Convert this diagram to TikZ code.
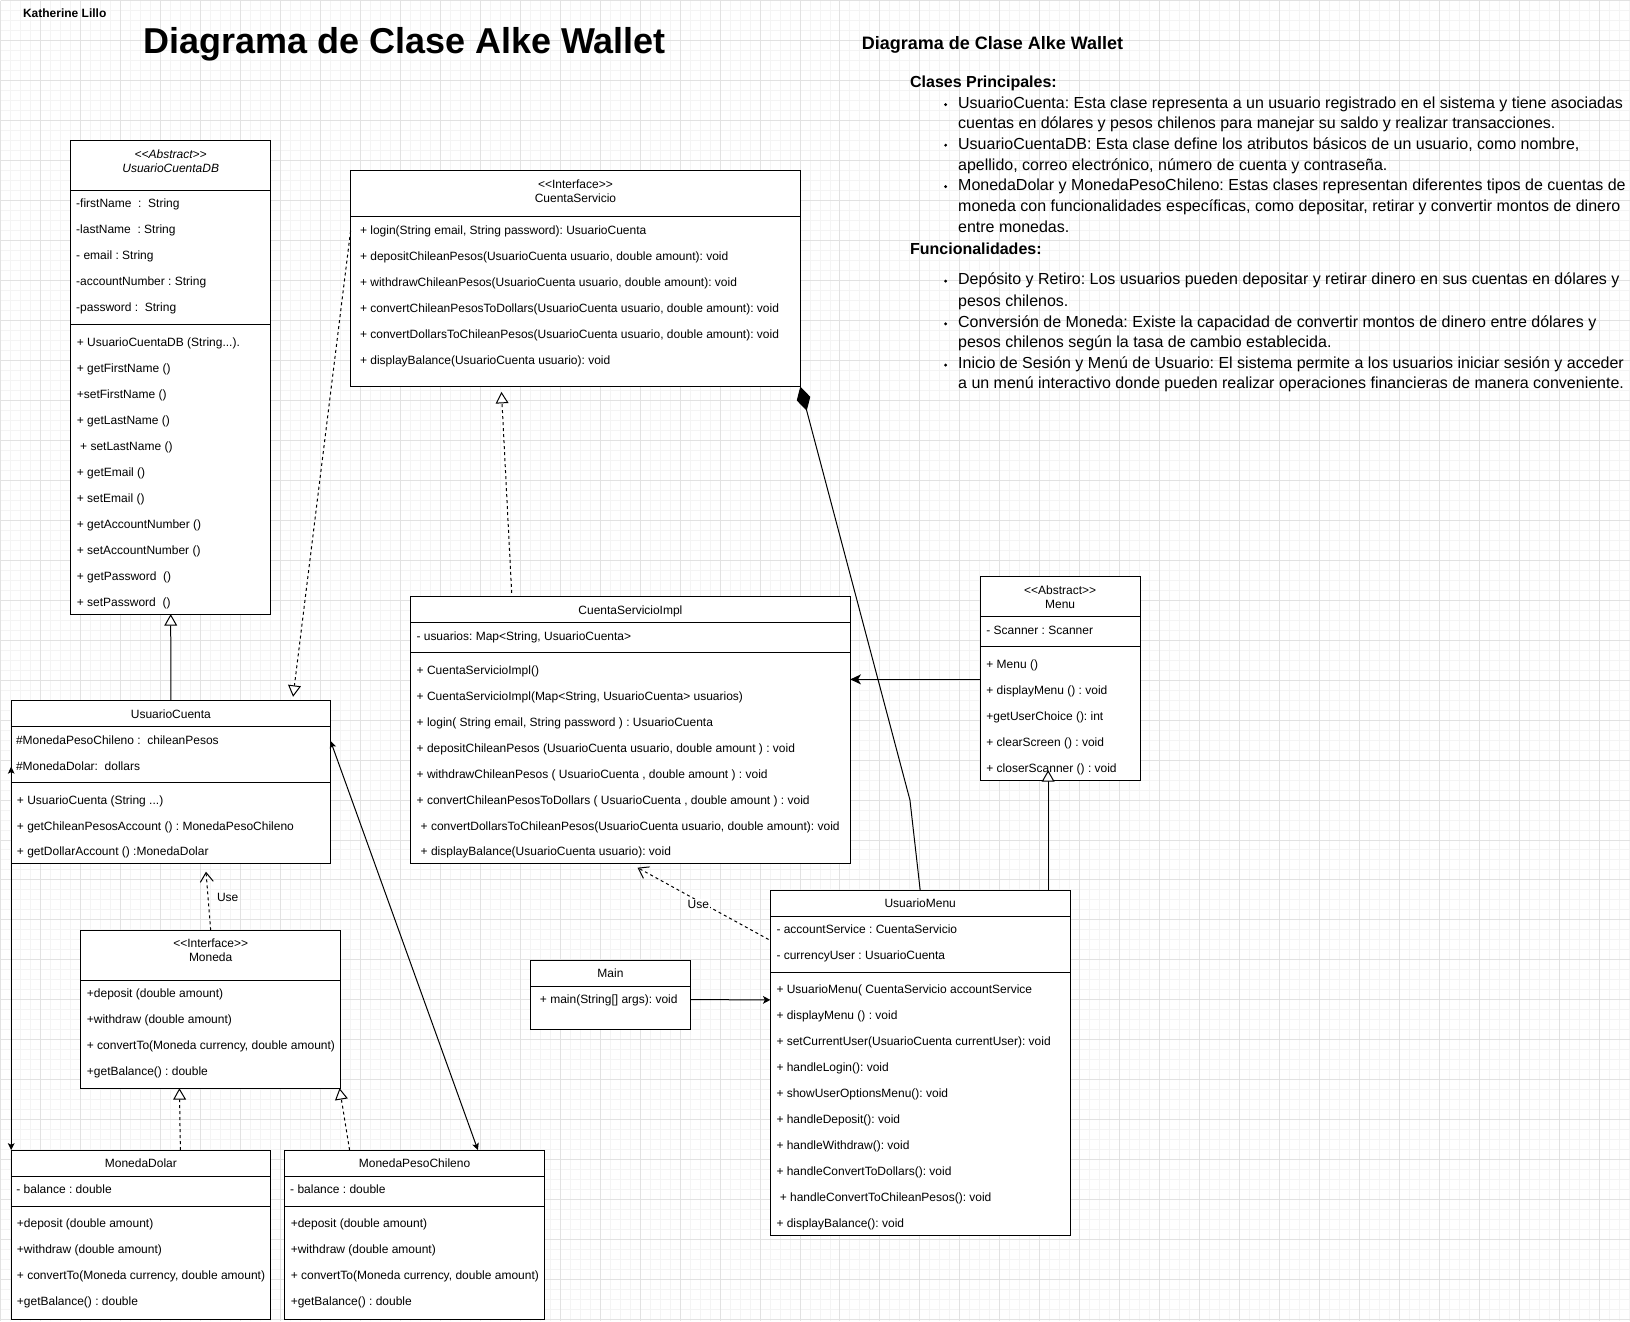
\documentclass[tikz,border=0pt]{standalone}
\usepackage{fontspec}
\setmainfont{Liberation Sans}[Ligatures=TeXOff]
\usetikzlibrary{arrows.meta}
\frenchspacing
\definecolor{gmin}{HTML}{F4F4F4}
\definecolor{gmaj}{HTML}{E2E2E2}
\newcommand\fs{\fontsize{9pt}{11pt}\selectfont}
\newcommand\umlbox[5]{\node[box, minimum width={(#4-#2)*0.75pt}, minimum height={(#5-#3)*0.75pt}] (#1) at (#2,#3) {};}
\newcommand\hl[3]{\draw[divider] (#1,#3) -- (#2,#3);}
\newcommand\row[4]{\node[t] (#1) at (#2,#3) {#4};}
\newcommand\crow[4]{\node[tc] (#1) at (#2,#3) {#4};}
\newcommand\prow[4]{\node[pt] (#1) at (#2,#3) {#4};}
\begin{document}
\begin{tikzpicture}[x=0.75pt,y=-0.75pt,
  box/.style={draw=black, line width=0.75pt, fill=white, inner sep=0pt, outer sep=0pt, anchor=north west},
  divider/.style={draw=black, line width=0.75pt},
  t/.style={inner sep=0pt, anchor=base west, font=\fs},
  tc/.style={inner sep=0pt, anchor=base, font=\fs},
  pt/.style={inner sep=0pt, anchor=base west, font=\fontsize{12pt}{14pt}\selectfont},
  pb/.style={inner sep=0pt, anchor=base west, font=\fontsize{12pt}{14pt}\selectfont\bfseries},
  conn/.style={draw=black, line width=0.75pt},
  gen/.style={conn, -{Triangle[length=8.6pt,width=9.6pt,fill=white]}},
  real/.style={gen, dash pattern=on 2.25pt off 2.25pt},
  use/.style={conn, dash pattern=on 2.25pt off 2.25pt, -{Straight Barb[length=7pt,width=9.75pt]}},
  arr/.style={conn, -{Stealth[length=5.5pt,width=5.8pt,inset=1.4pt]}},
  arrbig/.style={conn, -{Stealth[length=8pt,width=7.5pt,inset=2.2pt]}},
  arrboth/.style={conn, {Stealth[length=5.2pt,width=5pt,inset=1.2pt]}-{Stealth[length=5.2pt,width=5pt,inset=1.2pt]}},
  comp/.style={conn, -{Diamond[length=18.75pt,width=10.5pt]}},
  ulabel/.style={inner sep=0.8pt, font=\fs}
]
% background and grid
\fill[white] (0,0) rectangle (1630,1321);
\foreach \i in {0,10,...,1630} \draw[gmin, line width=0.75pt] (\i,0) -- (\i,1321);
\foreach \j in {0,10,...,1320} \draw[gmin, line width=0.75pt] (0,\j) -- (1630,\j);
\foreach \i in {0,40,...,1600} \draw[gmaj, line width=0.75pt] (\i,0) -- (\i,1321);
\foreach \j in {0,40,...,1320} \draw[gmaj, line width=0.75pt] (0,\j) -- (1630,\j);
\useasboundingbox (0,0) rectangle (1630,1321);

% titles
\node[inner sep=0pt, anchor=base west, font=\fs\bfseries] (author) at (22.3,17.3) {Katherine Lillo};
\node[inner sep=0pt, anchor=base west, font=\fontsize{27pt}{32pt}\selectfont\bfseries] (title) at (142.5,53) {Diagrama de Clase Alke Wallet};

% right panel
\node[inner sep=0pt, anchor=base west, font=\fontsize{13.5pt}{16pt}\selectfont\bfseries] (rhead) at (861.6,49.1) {Diagrama de Clase Alke Wallet};
\node[pb] (clases) at (909.9,86.7) {Clases Principales:};
\prow{p1}{958}{107.7}{UsuarioCuenta: Esta clase representa a un usuario registrado en el sistema y tiene asociadas}
\prow{p2}{958}{128.4}{cuentas en dólares y pesos chilenos para manejar su saldo y realizar transacciones.}
\prow{p3}{958}{149.0}{UsuarioCuentaDB: Esta clase define los atributos básicos de un usuario, como nombre,}
\prow{p4}{958}{169.7}{apellido, correo electrónico, número de cuenta y contraseña.}
\prow{p5}{958}{190.4}{MonedaDolar y MonedaPesoChileno: Estas clases representan diferentes tipos de cuentas de}
\prow{p6}{958}{211.0}{moneda con funcionalidades específicas, como depositar, retirar y convertir montos de dinero}
\prow{p7}{958}{231.7}{entre monedas.}
\node[pb] (funcs) at (909.9,253.7) {Funcionalidades:};
\prow{p8}{958}{284.3}{Depósito y Retiro: Los usuarios pueden depositar y retirar dinero en sus cuentas en dólares y}
\prow{p9}{958}{305.7}{pesos chilenos.}
\prow{p10}{958}{327}{Conversión de Moneda: Existe la capacidad de convertir montos de dinero entre dólares y}
\prow{p11}{958}{347.7}{pesos chilenos según la tasa de cambio establecida.}
\prow{p12}{958}{368.3}{Inicio de Sesión y Menú de Usuario: El sistema permite a los usuarios iniciar sesión y acceder}
\prow{p13}{958}{388.3}{a un menú interactivo donde pueden realizar operaciones financieras de manera conveniente.}
\foreach \yy in {104.2,144.8,186.2,280.8,323.5,364.8} \fill[black] (945.7,\yy) circle (1.6);

% ---- UsuarioCuentaDB
\umlbox{ucdb}{70.3}{140.3}{270.3}{614}
\hl{70.3}{270.3}{190.3}
\hl{70.3}{270.3}{324.3}
\node[tc, font=\fs\itshape] (ucdb-s) at (170.3,158.3) {<<Abstract>>};
\node[tc, font=\fs\itshape] (ucdb-n) at (170.3,172) {UsuarioCuentaDB};
\row{ucdb-a1}{75.5}{207.6}{-firstName\ \ :\ \ String}
\row{ucdb-a2}{75.5}{233.6}{-lastName\ \ : String}
\row{ucdb-a3}{75.5}{259.6}{- email : String}
\row{ucdb-a4}{75.5}{285.6}{-accountNumber : String}
\row{ucdb-a5}{75.5}{311.6}{-password :\ \ String}
\row{ucdb-m1}{76.2}{346.3}{+ UsuarioCuentaDB (String...).}
\row{ucdb-m2}{76.2}{372.3}{+ getFirstName ()}
\row{ucdb-m3}{76.2}{398.3}{+setFirstName ()}
\row{ucdb-m4}{76.2}{424.3}{+ getLastName ()}
\row{ucdb-m5}{79.5}{450.3}{+ setLastName ()}
\row{ucdb-m6}{76.2}{476.3}{+ getEmail ()}
\row{ucdb-m7}{76.2}{502.3}{+ setEmail ()}
\row{ucdb-m8}{76.2}{528.3}{+ getAccountNumber ()}
\row{ucdb-m9}{76.2}{554}{+ setAccountNumber ()}
\row{ucdb-m10}{76.2}{580}{+ getPassword\ \ ()}
\row{ucdb-m11}{76.2}{606}{+ setPassword\ \ ()}

% ---- CuentaServicio
\umlbox{cs}{350.3}{170.3}{800.3}{386.3}
\hl{350.3}{800.3}{216.3}
\crow{cs-s}{575.3}{188}{<<Interface>>}
\crow{cs-n}{575.3}{202}{CuentaServicio}
\row{cs-m1}{359.5}{234}{+ login(String email, String password): UsuarioCuenta}
\row{cs-m2}{359.5}{260}{+ depositChileanPesos(UsuarioCuenta usuario, double amount): void}
\row{cs-m3}{359.5}{286}{+ withdrawChileanPesos(UsuarioCuenta usuario, double amount): void}
\row{cs-m4}{359.5}{312}{+ convertChileanPesosToDollars(UsuarioCuenta usuario, double amount): void}
\row{cs-m5}{359.5}{338}{+ convertDollarsToChileanPesos(UsuarioCuenta usuario, double amount): void}
\row{cs-m6}{359.5}{364}{+ displayBalance(UsuarioCuenta usuario): void}

% ---- CuentaServicioImpl
\umlbox{csi}{410.3}{596.7}{850.3}{864}
\hl{410.3}{850.3}{622.3}
\hl{410.3}{850.3}{652.3}
\crow{csi-n}{630.3}{614}{CuentaServicioImpl}
\row{csi-a1}{416}{640}{- usuarios: Map<String, UsuarioCuenta>}
\row{csi-m1}{416.2}{674}{+ CuentaServicioImpl()}
\row{csi-m2}{416.2}{700}{+ CuentaServicioImpl(Map<String, UsuarioCuenta> usuarios)}
\row{csi-m3}{416.2}{726}{+ login( String email, String password ) : UsuarioCuenta}
\row{csi-m4}{416.2}{752}{+ depositChileanPesos (UsuarioCuenta usuario, double amount ) : void}
\row{csi-m5}{416.2}{778}{+ withdrawChileanPesos ( UsuarioCuenta , double amount ) : void}
\row{csi-m6}{416.2}{804}{+ convertChileanPesosToDollars ( UsuarioCuenta , double amount ) : void}
\row{csi-m7}{420.2}{830}{+ convertDollarsToChileanPesos(UsuarioCuenta usuario, double amount): void}
\row{csi-m8}{420.2}{856}{+ displayBalance(UsuarioCuenta usuario): void}

% ---- Menu
\umlbox{menu}{980.3}{576.3}{1140.3}{780.3}
\hl{980.3}{1140.3}{616.3}
\hl{980.3}{1140.3}{646.3}
\crow{menu-s}{1060.3}{594}{<<Abstract>>}
\crow{menu-n}{1060.3}{608}{Menu}
\row{menu-a1}{986.2}{634}{- Scanner : Scanner}
\row{menu-m1}{986.2}{668}{+ Menu ()}
\row{menu-m2}{986.2}{694}{+ displayMenu () : void}
\row{menu-m3}{986.2}{720}{+getUserChoice (): int}
\row{menu-m4}{986.2}{746}{+ clearScreen () : void}
\row{menu-m5}{986.2}{772}{+ closerScanner () : void}

% ---- UsuarioCuenta
\umlbox{uc}{10.7}{700.3}{330.3}{864}
\hl{10.7}{330.3}{726.3}
\hl{10.7}{330.3}{782.3}
\crow{uc-n}{170.5}{718}{UsuarioCuenta}
\row{uc-a1}{15.3}{744}{\#MonedaPesoChileno :\ \ chileanPesos}
\row{uc-a2}{15.3}{770}{\#MonedaDolar:\ \ dollars}
\row{uc-m1}{16.2}{804}{+ UsuarioCuenta (String ...)}
\row{uc-m2}{16.2}{830}{+ getChileanPesosAccount () : MonedaPesoChileno}
\row{uc-m3}{16.2}{856}{+ getDollarAccount () :MonedaDolar}

% ---- Moneda
\umlbox{mon}{80.3}{930.3}{340.3}{1088.3}
\hl{80.3}{340.3}{980.3}
\crow{mon-s}{210.3}{948}{<<Interface>>}
\crow{mon-n}{210.3}{962}{Moneda}
\row{mon-m1}{86.2}{998}{+deposit (double amount)}
\row{mon-m2}{86.2}{1024}{+withdraw (double amount)}
\row{mon-m3}{86.2}{1050}{+ convertTo(Moneda currency, double amount)}
\row{mon-m4}{86.2}{1076}{+getBalance() : double}

% ---- MonedaDolar
\umlbox{md}{10.7}{1150.3}{270.3}{1319.5}
\hl{10.7}{270.3}{1176.3}
\hl{10.7}{270.3}{1206.3}
\crow{md-n}{140.5}{1168}{MonedaDolar}
\row{md-a1}{15.6}{1194}{- balance : double}
\row{md-m1}{16.2}{1228}{+deposit (double amount)}
\row{md-m2}{16.2}{1254}{+withdraw (double amount)}
\row{md-m3}{16.2}{1280}{+ convertTo(Moneda currency, double amount)}
\row{md-m4}{16.2}{1306}{+getBalance() : double}

% ---- MonedaPesoChileno
\umlbox{mpc}{284.3}{1150.3}{544.3}{1319.5}
\hl{284.3}{544.3}{1176.3}
\hl{284.3}{544.3}{1206.3}
\crow{mpc-n}{414.3}{1168}{MonedaPesoChileno}
\row{mpc-a1}{289.6}{1194}{- balance : double}
\row{mpc-m1}{290.2}{1228}{+deposit (double amount)}
\row{mpc-m2}{290.2}{1254}{+withdraw (double amount)}
\row{mpc-m3}{290.2}{1280}{+ convertTo(Moneda currency, double amount)}
\row{mpc-m4}{290.2}{1306}{+getBalance() : double}

% ---- Main
\umlbox{main}{530.3}{960.3}{690.3}{1030}
\hl{530.3}{690.3}{986.3}
\crow{main-n}{610.3}{978}{Main}
\row{main-m1}{539.5}{1004}{+ main(String[] args): void}

% ---- UsuarioMenu
\umlbox{um}{770.3}{890.7}{1070.3}{1235.7}
\hl{770.3}{1070.3}{916.3}
\hl{770.3}{1070.3}{972.3}
\crow{um-n}{920.3}{907.6}{UsuarioMenu}
\row{um-a1}{776.2}{934}{- accountService : CuentaServicio}
\row{um-a2}{776.2}{960}{- currencyUser : UsuarioCuenta}
\row{um-m1}{776.2}{994}{+ UsuarioMenu( CuentaServicio accountService}
\row{um-m2}{776.2}{1020}{+ displayMenu () : void}
\row{um-m3}{776.2}{1046}{+ setCurrentUser(UsuarioCuenta currentUser): void}
\row{um-m4}{776.2}{1072}{+ handleLogin(): void}
\row{um-m5}{776.2}{1098}{+ showUserOptionsMenu(): void}
\row{um-m6}{776.2}{1124}{+ handleDeposit(): void}
\row{um-m7}{776.2}{1150}{+ handleWithdraw(): void}
\row{um-m8}{776.2}{1176}{+ handleConvertToDollars(): void}
\row{um-m9}{779.5}{1202}{+ handleConvertToChileanPesos(): void}
\row{um-m10}{776.2}{1228}{+ displayBalance(): void}

% ---- connectors
\draw[gen] (uc.north) -- (ucdb.south);
\draw[real, shorten >=2.7pt] (cs.west |- 0,230.5) -- (292.3,0 |- uc.north);
\draw[real, shorten <=3pt, shorten >=4pt] (511.7,0 |- csi.north) -- (501,0 |- cs.south);
\draw[comp] (um.north) -- (910,800) -- (cs.south east);
\draw[arrbig] (menu.west |- 0,679.3) -- (csi.east |- 0,679.3);
\draw[gen, shorten >=-7.6pt] (1048.3,0 |- um.north) -- (1048.3,0 |- menu.south);
\draw[use, shorten <=1.5pt, shorten >=5.8pt] (um.west |- 0,940.5) -- (630.7,0 |- csi.south);
\node[ulabel, fill=white] (use2) at (698.3,904.3) {Use};
\draw[arr] (main.east |- 0,999.7) -- (um.west |- 0,1000);
\draw[use, shorten >=5.8pt] (mon.north) -- (205,0 |- uc.south);
\node[inner sep=0pt, anchor=base west, font=\fs] (use1) at (216.4,902) {Use};
\draw[real] (180,0 |- md.north) -- (179,0 |- mon.south);
\draw[real] (349.3,0 |- mpc.north) -- (339.3,0 |- mon.south);
\draw[arrboth] (uc.east |- 0,741) -- (477.7,0 |- mpc.north);
\draw[arrboth] (uc.west |- 0,766.7) -- (md.north west);
\end{tikzpicture}
\end{document}
